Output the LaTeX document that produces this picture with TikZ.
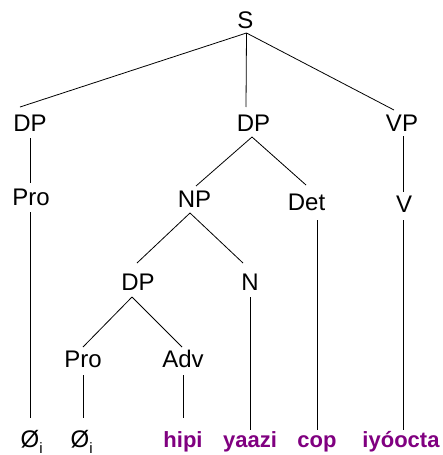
\documentclass[tikz,border=0pt]{standalone}
\usepackage{fontspec}
\setmainfont{Liberation Sans}
\usetikzlibrary{calc}
\definecolor{wordpurple}{HTML}{800080}
\begin{document}
\begin{tikzpicture}[x=1pt,y=-1pt,
  lab/.style={font=\fontsize{24}{28}\selectfont, inner sep=0pt, anchor=base},
  word/.style={lab, font=\fontsize{22}{26}\selectfont\bfseries, text=wordpurple},
  edge/.style={line width=0.8pt, black}]
\useasboundingbox (0,0) rectangle (443,455);
% labels
\node[lab] (S) at (245.5,28) {S};
\node[lab] (DPa) at (30,131) {DP};
\node[lab] (DPb) at (253.5,131) {DP};
\node[lab] (VP) at (402,131) {VP};
\node[lab] (ProA) at (31,205) {Pro};
\node[lab] (NP) at (194.5,207) {NP};
\node[lab] (Det) at (306.5,210) {Det};
\node[lab] (V) at (404,212) {V};
\node[lab] (DPc) at (138,290) {DP};
\node[lab] (N) at (250,290) {N};
\node[lab] (ProB) at (83,367) {Pro};
\node[lab] (Adv) at (183,367) {Adv};
\node[lab, anchor=base west] (Za) at (20.5,447) {Ø\raisebox{-6pt}{\fontsize{15}{18}\selectfont i}};
\node[lab, anchor=base west] (Zb) at (70.5,447) {Ø\raisebox{-6pt}{\fontsize{15}{18}\selectfont i}};
\node[word] (hipi) at (183,447) {hipi};
\node[word] (yaazi) at (250,447) {yaazi};
\node[word] (cop) at (317,447) {cop};
\node[word] (iyo) at (401,447) {iyóocta};
% connectors
\coordinate (Sb) at ($(S.base)+(1,5)$);
\draw[edge] (Sb) -- ($(DPa.base)+(-10,-24)$);
\draw[edge] (Sb) -- ($(DPb.base)+(-7.5,-24)$);
\draw[edge] (Sb) -- ($(VP.base)+(-8,-21)$);
\draw[edge] ($(DPa.base)+(0,7)$) -- ($(ProA.base)+(-1,-22)$);
\draw[edge] ($(ProA.base)+(-1,7)$) -- ($(Za.base west)+(9.5,-29)$);
\coordinate (DPbb) at ($(DPb.base)+(-1.5,6)$);
\draw[edge] (DPbb) -- ($(NP.base)+(1.5,-21)$);
\draw[edge] (DPbb) -- ($(Det.base)+(-0.5,-25)$);
\coordinate (NPb) at ($(NP.base)+(-4.5,6)$);
\draw[edge] (NPb) -- ($(DPc.base)+(-1,-27)$);
\draw[edge] (NPb) -- ($(N.base)+(-7,-27)$);
\draw[edge] ($(Det.base)+(10.5,10)$) -- ($(cop.base)+(0,-17)$);
\draw[edge] ($(VP.base)+(1.5,5)$) -- ($(V.base)+(-0.5,-20)$);
\draw[edge] ($(V.base)+(-0.5,8)$) -- ($(iyo.base)+(2.5,-17)$);
\coordinate (DPcb) at ($(DPc.base)+(-6,7)$);
\draw[edge] (DPcb) -- ($(ProB.base)+(0,-20)$);
\draw[edge] (DPcb) -- ($(Adv.base)+(-1,-20)$);
\draw[edge] ($(N.base)+(0,7)$) -- ($(yaazi.base)+(0,-17)$);
\draw[edge] ($(ProB.base)+(0,8)$) -- ($(Zb.base west)+(12.5,-29)$);
\draw[edge] ($(Adv.base)+(0,8)$) -- ($(hipi.base)+(0,-29)$);
\end{tikzpicture}
\end{document}
